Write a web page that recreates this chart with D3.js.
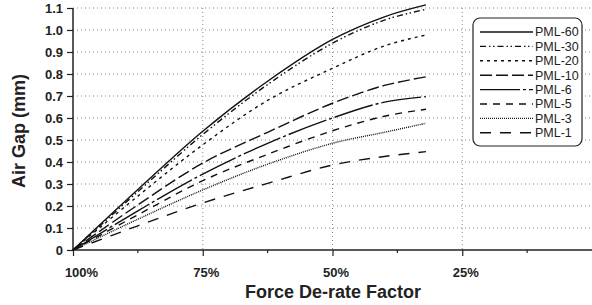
<!DOCTYPE html>
<html>
<head>
  <meta charset="utf-8">
  <script src="https://d3js.org/d3.v7.min.js"></script>
  <style>
    body { margin: 0; background: #fff; }
    text { font-family: "Liberation Sans", Arial, sans-serif; }
    .tick-label { font-size: 13px; font-weight: bold; fill: #222; }
    .title { font-size: 18px; font-weight: bold; fill: #222; }
    .grid { stroke: #888; stroke-width: 1; stroke-dasharray: 1,3; }
    .series { fill: none; stroke: #111; stroke-width: 1.4; }
    .legend-text { font-size: 12.5px; fill: #222; }
  </style>
</head>
<body>
  <svg width="592" height="305"></svg>

  <script>
    // force de-rate factor (%) where each curve was read
    var derate = [100, 87.5, 75, 62.5, 50, 40, 32];

    // air gap (mm) per model
    var pml60 = [0, 0.275, 0.54, 0.767, 0.957, 1.06, 1.114];
    var pml30 = [0, 0.265, 0.525, 0.752, 0.94, 1.045, 1.094];
    var pml20 = [0, 0.245, 0.478, 0.68, 0.826, 0.928, 0.977];
    var pml10 = [0, 0.205, 0.395, 0.535, 0.667, 0.748, 0.787];
    var pml6 = [0, 0.178, 0.345, 0.485, 0.6, 0.672, 0.697];
    var pml5 = [0, 0.16, 0.315, 0.435, 0.542, 0.608, 0.64];
    var pml3 = [0, 0.14, 0.273, 0.39, 0.485, 0.535, 0.576];
    var pml1 = [0, 0.11, 0.214, 0.303, 0.386, 0.425, 0.447];

    var seriesNames = ["PML-60", "PML-30", "PML-20", "PML-10", "PML-6", "PML-5", "PML-3", "PML-1"];
    var seriesValues = [pml60, pml30, pml20, pml10, pml6, pml5, pml3, pml1];
    var dashes = ["none", "6,3,1.5,2.5,1.5,3", "3,4", "12,4", "40,3,3,3", "7,6", "1,1", "11,9"];

    var yTicks = [0, 0.1, 0.2, 0.3, 0.4, 0.5, 0.6, 0.7, 0.8, 0.9, 1.0, 1.1];
    var xMajor = [100, 75, 50, 25];
    var xMinor = [87.5, 62.5, 37.5, 12.5];
    var xLabels = ["100%", "75%", "50%", "25%"];

    var x = d3.scaleLinear().domain([100, 0]).range([73, 592]);
    var y = d3.scaleLinear().domain([0, 1.1]).range([250, 8]);

    var svg = d3.select("svg");

    // grid
    svg.selectAll(".hgrid").data(yTicks.slice(1)).enter().append("line")
      .attr("class", "grid")
      .attr("x1", x(100)).attr("x2", x(0))
      .attr("y1", function(d) { return y(d); })
      .attr("y2", function(d) { return y(d); });

    svg.selectAll(".vgrid").data(xMajor.slice(1)).enter().append("line")
      .attr("class", "grid")
      .attr("x1", function(d) { return x(d); })
      .attr("x2", function(d) { return x(d); })
      .attr("y1", y(1.1)).attr("y2", y(0));

    // y axis
    var yAxis = svg.append("g")
      .attr("transform", "translate(" + x(100) + ",0)")
      .call(d3.axisLeft(y).tickValues(yTicks).tickSize(6).tickPadding(4)
        .tickFormat(function(d) { return d === 0 ? "0" : d3.format(".1f")(d); }));
    yAxis.select(".domain").attr("stroke", "#222").attr("stroke-width", 1.5).attr("d", "M0," + y(1.1) + "V" + y(0));
    yAxis.selectAll(".tick line").attr("stroke", "#222").attr("stroke-width", 1.2);
    yAxis.selectAll(".tick text").attr("class", "tick-label").attr("font-family", null).attr("font-size", null);

    // x axis
    var xAxis = svg.append("g")
      .attr("transform", "translate(0," + y(0) + ")")
      .call(d3.axisBottom(x).tickValues(xMajor).tickSize(6).tickPadding(12)
        .tickFormat(function(d, i) { return xLabels[i]; }));
    xAxis.select(".domain").attr("stroke", "#222").attr("stroke-width", 1.5).attr("d", "M" + x(100) + ",0H" + x(0));
    xAxis.selectAll(".tick line").attr("stroke", "#222").attr("stroke-width", 1.2);
    xAxis.selectAll(".tick text").attr("class", "tick-label").attr("font-family", null).attr("font-size", null)
      .attr("dx", function(d, i) { return i === 0 ? 8 : 3; });

    svg.append("g")
      .attr("transform", "translate(0," + y(0) + ")")
      .selectAll("line").data(xMinor).enter().append("line")
      .attr("x1", function(d) { return x(d); })
      .attr("x2", function(d) { return x(d); })
      .attr("y1", 0).attr("y2", 3)
      .attr("stroke", "#222").attr("stroke-width", 1.2);

    // titles
    svg.append("text").attr("class", "title")
      .attr("x", 333).attr("y", 298).attr("text-anchor", "middle")
      .text("Force De-rate Factor");
    svg.append("text").attr("class", "title")
      .attr("transform", "translate(25,131) rotate(-90)")
      .attr("text-anchor", "middle")
      .text("Air Gap (mm)");

    // curves
    var line = d3.line()
      .x(function(d, i) { return x(derate[i]); })
      .y(function(d) { return y(d); })
      .curve(d3.curveCatmullRom.alpha(0.5));

    svg.selectAll(".series").data(seriesValues).enter().append("path")
      .attr("class", "series")
      .attr("d", line)
      .attr("stroke-dasharray", function(d, i) { return dashes[i]; });

    // legend
    var legend = svg.append("g");
    legend.append("rect")
      .attr("x", 473).attr("y", 18).attr("width", 109).attr("height", 128)
      .attr("rx", 7).attr("ry", 7)
      .attr("fill", "#fff").attr("stroke", "#222").attr("stroke-width", 1.2);

    var rows = legend.selectAll(".row").data(seriesNames).enter().append("g")
      .attr("transform", function(d, i) { return "translate(0," + (32 + i * 14.4) + ")"; });
    rows.append("line")
      .attr("x1", 480).attr("x2", 533).attr("y1", 0).attr("y2", 0)
      .attr("class", "series")
      .attr("stroke-dasharray", function(d, i) { return dashes[i]; });
    rows.append("text")
      .attr("class", "legend-text")
      .attr("x", 535).attr("y", 0).attr("dy", "0.35em")
      .text(function(d) { return d; });
  </script>
</body>
</html>
